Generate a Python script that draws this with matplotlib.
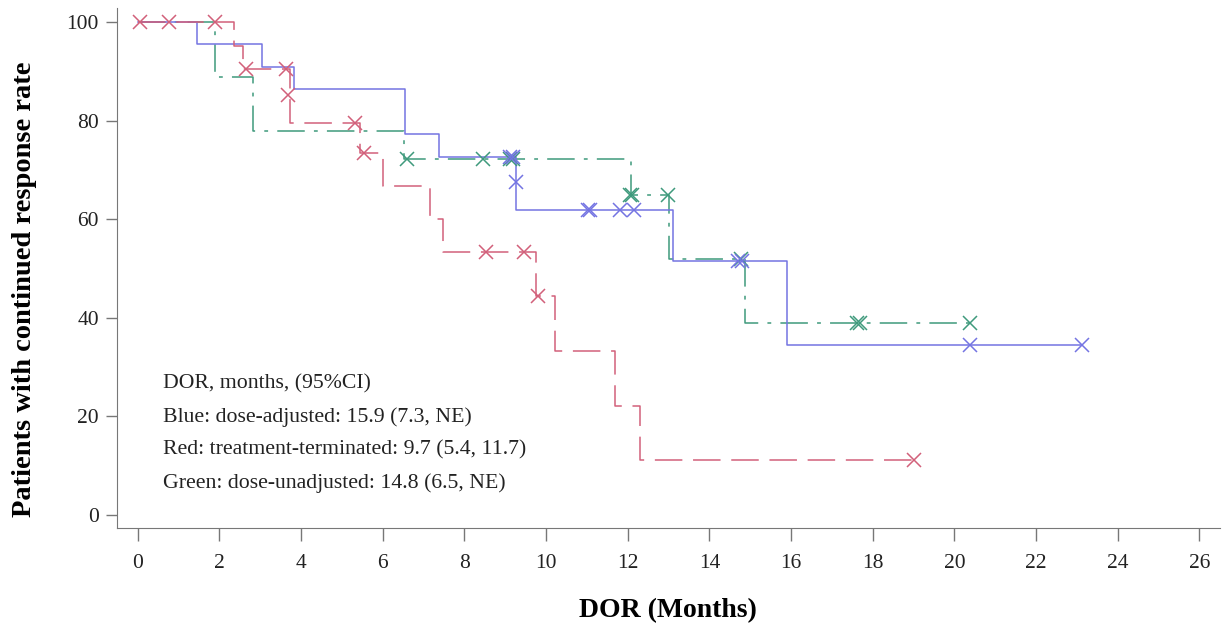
import matplotlib
matplotlib.use("Agg")
import matplotlib.pyplot as plt

# Kaplan-Meier steps (months, % still responding)
blue_t = [0, 1.45, 3.03, 3.83, 6.54, 7.38, 9.26, 9.27, 13.1, 15.9, 23.13]
blue_s = [100, 95.5, 90.9, 86.4, 77.3, 72.7, 67.5, 61.9, 51.6, 34.4, 34.4]
blue_ct = [9.12, 9.2, 9.25, 11.02, 11.07, 11.8, 12.15, 14.7, 14.8, 20.38, 23.13]
blue_cs = [72.7, 72.7, 67.5, 61.9, 61.9, 61.9, 61.9, 51.6, 51.6, 34.4, 34.4]

red_t = [0, 2.36, 2.58, 3.72, 3.73, 5.43, 6.0, 7.15, 7.47, 9.76, 10.21, 11.68, 12.29, 19.0]
red_s = [100, 95.2, 90.5, 85.2, 79.5, 73.4, 66.7, 60.0, 53.3, 44.4, 33.3, 22.2, 11.1, 11.1]
red_ct = [0.05, 0.76, 1.89, 2.66, 3.62, 3.68, 5.32, 5.54, 8.52, 9.45, 9.8, 19.0]
red_cs = [100, 100, 100, 90.5, 90.5, 85.2, 79.5, 73.4, 53.3, 53.3, 44.4, 11.1]

green_t = [0, 1.9, 2.82, 6.51, 12.08, 13.02, 14.86, 20.38]
green_s = [100, 88.9, 77.8, 72.2, 65.0, 52.0, 39.0, 39.0]
green_ct = [6.59, 8.45, 9.12, 9.18, 12.06, 12.1, 12.98, 14.78, 17.62, 17.68, 20.38]
green_cs = [72.2, 72.2, 72.2, 72.2, 65.0, 65.0, 65.0, 52.0, 39.0, 39.0, 39.0]

notes = ["DOR, months, (95%CI)",
         "Blue: dose-adjusted: 15.9 (7.3, NE)",
         "Red: treatment-terminated: 9.7 (5.4, 11.7)",
         "Green: dose-unadjusted: 14.8 (6.5, NE)"]

BLUE = "#7474e2"
RED = "#d2607a"
GREEN = "#3f9a7c"

plt.rcParams["font.family"] = ["Liberation Serif", "DejaVu Serif"]

fig = plt.figure(figsize=(12.24, 6.27), dpi=100)
ax = fig.add_axes([0.0956, 0.158, 0.901, 0.829])

ax.step(green_t, green_s, where="post", color=GREEN, lw=1.1,
        dashes=(18, 6, 2.5, 6))
ax.step(blue_t, blue_s, where="post", color=BLUE, lw=1.1)
ax.step(red_t, red_s, where="post", color=RED, lw=1.1, dashes=(18, 7))

ax.plot(green_ct, green_cs, "x", color=GREEN, ms=9.5, mew=1.1, ls="none")
ax.plot(blue_ct, blue_cs, "x", color=BLUE, ms=9.5, mew=1.1, ls="none")
ax.plot(red_ct, red_cs, "x", color=RED, ms=9.5, mew=1.1, ls="none")

for i, s in enumerate(notes):
    ax.text(0.62, 26.7 - i * 6.77, s, fontsize=15.7, color="#222222",
            va="center", ha="left")

ax.set_xlim(-0.51, 26.5)
ax.set_ylim(-2.6, 102.8)
ax.set_xticks(range(0, 27, 2))
ax.set_yticks(range(0, 101, 20))
for side in ["top", "right"]:
    ax.spines[side].set_visible(False)
for side in ["left", "bottom"]:
    ax.spines[side].set_color("#777777")
ax.tick_params(axis="x", length=9, width=1, color="#777777", labelsize=15.5,
               pad=10, labelcolor="#222222")
ax.tick_params(axis="y", length=8, width=1, color="#777777", labelsize=15.5,
               pad=5, labelcolor="#222222")

ax.set_xlabel("DOR (Months)", fontsize=20, fontweight="bold", labelpad=18)
ax.set_ylabel("Patients with continued response rate", fontsize=20.5,
              fontweight="bold")
ax.yaxis.set_label_coords(-0.073, 0.46)

fig.savefig("out.png", dpi=100)
